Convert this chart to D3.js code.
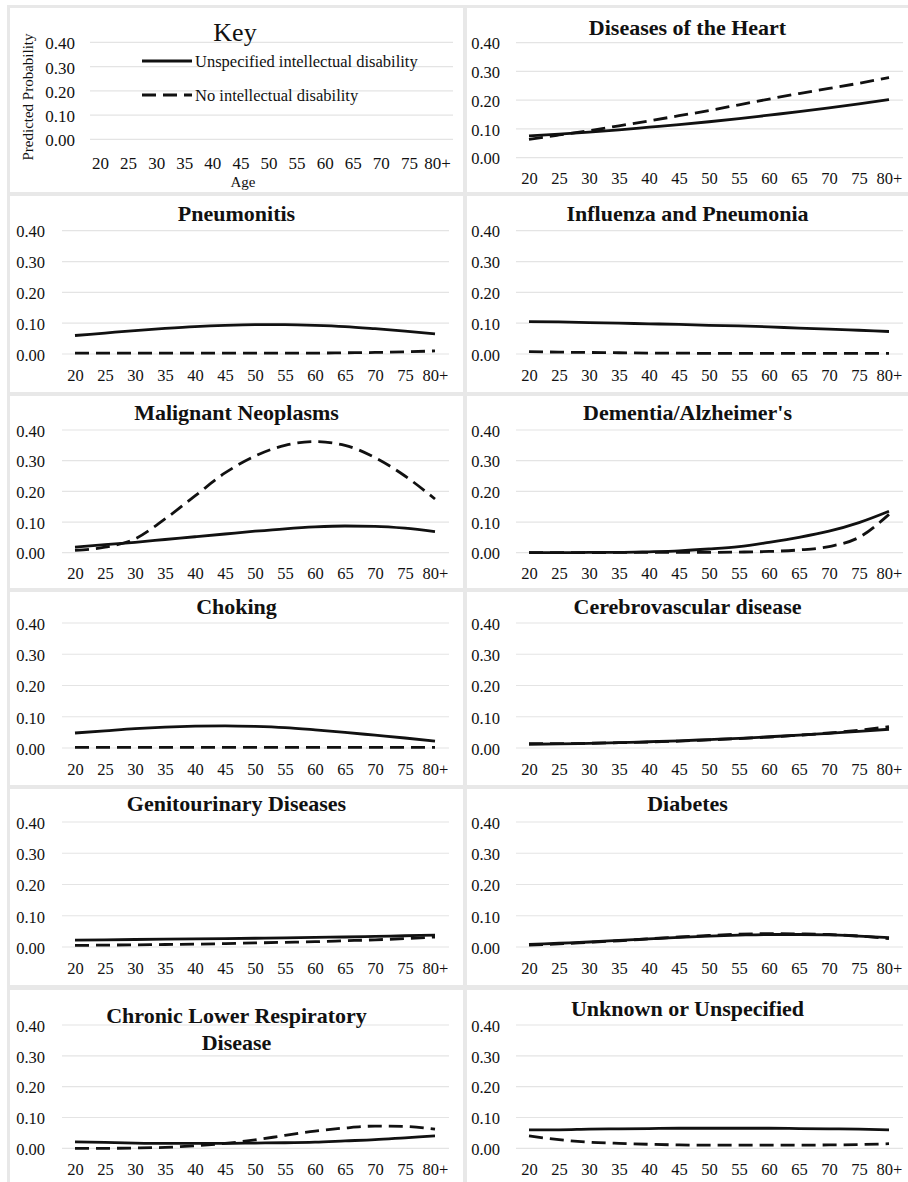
<!DOCTYPE html>
<html>
<head>
<meta charset="utf-8">
<script src="https://cdn.jsdelivr.net/npm/d3@7"></script>
<style>
  html, body { margin: 0; padding: 0; background: #fff; }
  svg { display: block; }
  text { font-family: "Liberation Serif", "Times New Roman", serif; fill: #111; }
</style>
</head>
<body>
<svg id="chart" width="908" height="1182"></svg>
<script>
// Age groups on the x axis and probability ticks on the y axis
const ages = ["20", "25", "30", "35", "40", "45", "50", "55", "60", "65", "70", "75", "80+"];
const probTicks = [0, 0.1, 0.2, 0.3, 0.4];
const probLabels = ["0.00", "0.10", "0.20", "0.30", "0.40"];

// Predicted probability by age: unspecified intellectual disability (ID) vs none (noID)
const heartID       = [0.076, 0.082, 0.089, 0.097, 0.106, 0.115, 0.125, 0.136, 0.148, 0.160, 0.173, 0.187, 0.202];
const heartNoID     = [0.064, 0.079, 0.094, 0.111, 0.128, 0.146, 0.164, 0.184, 0.204, 0.223, 0.241, 0.259, 0.279];
const pneumonitisID   = [0.060, 0.068, 0.076, 0.083, 0.089, 0.093, 0.095, 0.095, 0.093, 0.089, 0.082, 0.074, 0.065];
const pneumonitisNoID = [0.003, 0.003, 0.003, 0.003, 0.003, 0.003, 0.003, 0.003, 0.003, 0.004, 0.005, 0.007, 0.010];
const influenzaID   = [0.105, 0.104, 0.102, 0.100, 0.098, 0.096, 0.093, 0.091, 0.088, 0.084, 0.081, 0.077, 0.073];
const influenzaNoID = [0.008, 0.006, 0.005, 0.004, 0.003, 0.003, 0.002, 0.002, 0.002, 0.002, 0.002, 0.002, 0.002];
const neoplasmID    = [0.018, 0.026, 0.034, 0.043, 0.052, 0.061, 0.070, 0.078, 0.084, 0.087, 0.086, 0.080, 0.069];
const neoplasmNoID  = [0.008, 0.018, 0.045, 0.110, 0.185, 0.260, 0.315, 0.350, 0.362, 0.350, 0.310, 0.250, 0.175];
const dementiaID    = [0.000, 0.000, 0.001, 0.001, 0.003, 0.006, 0.012, 0.020, 0.034, 0.050, 0.070, 0.098, 0.135];
const dementiaNoID  = [0.000, 0.000, 0.000, 0.001, 0.001, 0.001, 0.001, 0.002, 0.004, 0.009, 0.020, 0.050, 0.125];
const chokingID     = [0.048, 0.055, 0.062, 0.067, 0.070, 0.071, 0.069, 0.065, 0.058, 0.050, 0.041, 0.032, 0.022];
const chokingNoID   = [0.002, 0.002, 0.002, 0.002, 0.002, 0.002, 0.002, 0.002, 0.002, 0.002, 0.002, 0.002, 0.002];
const cerebroID     = [0.012, 0.013, 0.015, 0.017, 0.020, 0.023, 0.027, 0.031, 0.036, 0.041, 0.047, 0.053, 0.060];
const cerebroNoID   = [0.014, 0.014, 0.015, 0.017, 0.019, 0.022, 0.026, 0.030, 0.035, 0.041, 0.048, 0.057, 0.068];
const genitoID      = [0.022, 0.023, 0.024, 0.025, 0.026, 0.027, 0.028, 0.029, 0.031, 0.032, 0.034, 0.036, 0.038];
const genitoNoID    = [0.005, 0.006, 0.007, 0.008, 0.009, 0.011, 0.013, 0.015, 0.017, 0.020, 0.023, 0.027, 0.032];
const diabetesID    = [0.008, 0.012, 0.016, 0.021, 0.026, 0.031, 0.035, 0.038, 0.040, 0.040, 0.039, 0.035, 0.030];
const diabetesNoID  = [0.006, 0.010, 0.015, 0.020, 0.026, 0.032, 0.037, 0.041, 0.043, 0.042, 0.040, 0.035, 0.027];
const respID        = [0.021, 0.019, 0.017, 0.016, 0.016, 0.016, 0.017, 0.018, 0.020, 0.024, 0.028, 0.034, 0.040];
const respNoID      = [0.000, 0.000, 0.001, 0.003, 0.008, 0.016, 0.027, 0.042, 0.056, 0.066, 0.072, 0.071, 0.062];
const unknownID     = [0.060, 0.060, 0.062, 0.063, 0.064, 0.065, 0.065, 0.065, 0.065, 0.064, 0.063, 0.062, 0.060];
const unknownNoID   = [0.040, 0.028, 0.020, 0.016, 0.013, 0.011, 0.010, 0.010, 0.010, 0.010, 0.011, 0.012, 0.015];

const legendLabels = ["Unspecified intellectual disability", "No intellectual disability"];

// Cause-of-death panels, in reading order (row, column); the key occupies row 0, column 0
const panels = [
  { row: 0, col: 1, title: ["Diseases of the Heart"], id: heartID, noId: heartNoID },
  { row: 1, col: 0, title: ["Pneumonitis"], id: pneumonitisID, noId: pneumonitisNoID },
  { row: 1, col: 1, title: ["Influenza and Pneumonia"], id: influenzaID, noId: influenzaNoID },
  { row: 2, col: 0, title: ["Malignant Neoplasms"], id: neoplasmID, noId: neoplasmNoID },
  { row: 2, col: 1, title: ["Dementia/Alzheimer's"], id: dementiaID, noId: dementiaNoID },
  { row: 3, col: 0, title: ["Choking"], id: chokingID, noId: chokingNoID },
  { row: 3, col: 1, title: ["Cerebrovascular disease"], id: cerebroID, noId: cerebroNoID },
  { row: 4, col: 0, title: ["Genitourinary Diseases"], id: genitoID, noId: genitoNoID },
  { row: 4, col: 1, title: ["Diabetes"], id: diabetesID, noId: diabetesNoID },
  { row: 5, col: 0, title: ["Chronic Lower Respiratory", "Disease"], id: respID, noId: respNoID },
  { row: 5, col: 1, title: ["Unknown or Unspecified"], id: unknownID, noId: unknownNoID }
];

// Grid geometry
const rowBox = [[8, 192], [196, 392], [396, 588], [592, 785], [789, 985], [990, 1182]];
const rowY = [ // pixel y of 0.40 and 0.00 gridlines
  [42.7, 157.7], [230.7, 354], [430, 552.7], [623, 748], [822, 947], [1025, 1148.3]
];
const rowTitleY = [27, 213, 412, 606, 803, 1008];
const colBox = [[10, 463], [467, 908]];
const colPlot = [[60, 450], [514, 904]];   // x band range
const colLabelX = [45, 500];               // right edge of y tick labels

const svg = d3.select("#chart");

// Light gray frame with white panels
svg.append("rect").attr("x", 7).attr("y", 5).attr("width", 901).attr("height", 1177).attr("fill", "#e8e8e8");
for (let r = 0; r < rowBox.length; r++) {
  for (let c = 0; c < colBox.length; c++) {
    svg.append("rect")
      .attr("x", colBox[c][0]).attr("y", rowBox[r][0])
      .attr("width", colBox[c][1] - colBox[c][0]).attr("height", rowBox[r][1] - rowBox[r][0])
      .attr("fill", "#fff");
  }
}

const lineStyles = {
  id: { width: 2.8, dash: null },
  noId: { width: 2.8, dash: "14,7" }
};

function drawAxes(g, x, y, gridX0, gridX1, labelRight, labelSize, xLabelY) {
  // horizontal gridlines
  g.append("g").selectAll("line").data(probTicks).join("line")
    .attr("x1", gridX0).attr("x2", gridX1)
    .attr("y1", d => y(d)).attr("y2", d => y(d))
    .attr("stroke", "#e4e4e4").attr("stroke-width", 1.2);

  // y axis labels
  const yAxis = d3.axisLeft(y).tickValues(probTicks)
    .tickFormat((d, i) => probLabels[i]).tickSize(0).tickPadding(0);
  const ya = g.append("g").attr("transform", `translate(${labelRight},0)`).call(yAxis);
  ya.attr("font-family", null);
  ya.select(".domain").remove();
  ya.selectAll("text").attr("font-size", labelSize).attr("dy", "0.38em")
    .style("font-family", "'Liberation Serif', 'Times New Roman', serif").attr("fill", "#222");

  // x axis labels
  const xAxis = d3.axisBottom(x).tickSize(0).tickPadding(0);
  const xa = g.append("g").attr("transform", `translate(0,${xLabelY})`).call(xAxis);
  xa.attr("font-family", null);
  xa.select(".domain").remove();
  xa.selectAll("text").attr("font-size", labelSize).attr("dy", "0.35em")
    .style("font-family", "'Liberation Serif', 'Times New Roman', serif").attr("fill", "#222");
}

// ---- Data panels ----
panels.forEach(p => {
  const [y40, y00] = rowY[p.row];
  const [bx0, bx1] = colBox[p.col];
  const x = d3.scalePoint().domain(ages).range(colPlot[p.col]).padding(0.5);
  const y = d3.scaleLinear().domain([0, 0.4]).range([y00, y40]);
  const g = svg.append("g");

  drawAxes(g, x, y, colPlot[p.col][0] + 2, colPlot[p.col][1] - 1, colLabelX[p.col], 16.5, y00 + 21);

  // title
  const cx = (bx0 + bx1) / 2;
  const ty0 = rowTitleY[p.row] + (p.title.length > 1 ? 7 : 0);
  p.title.forEach((t, i) => {
    g.append("text").attr("x", cx).attr("y", ty0 + i * 27).attr("dy", "0.35em")
      .attr("text-anchor", "middle").attr("font-size", 22).attr("font-weight", "bold")
      .text(t);
  });

  const line = d3.line().x((d, i) => x(ages[i])).y(d => y(d)).curve(d3.curveMonotoneX);
  [["noId", p.noId], ["id", p.id]].forEach(([k, vals]) => {
    g.append("path").datum(vals)
      .attr("d", line).attr("fill", "none").attr("stroke", "#111")
      .attr("stroke-width", lineStyles[k].width)
      .attr("stroke-dasharray", lineStyles[k].dash)
      .attr("stroke-linecap", "butt");
  });
});

// ---- Key panel ----
(function drawKey() {
  const x = d3.scalePoint().domain(ages).range([86, 451]).padding(0.5);
  const y = d3.scaleLinear().domain([0, 0.4]).range([139.3, 42.3]);
  const g = svg.append("g");
  drawAxes(g, x, y, 90, 453, 75, 17, 163);

  g.append("text").attr("x", 235).attr("y", 32).attr("dy", "0.35em").attr("text-anchor", "middle")
    .attr("font-size", 26).text("Key");

  g.append("text").attr("transform", "translate(33,97) rotate(-90)")
    .attr("text-anchor", "middle").attr("font-size", 15).text("Predicted Probability");
  g.append("text").attr("x", 243).attr("y", 182).attr("dy", "0.35em").attr("text-anchor", "middle")
    .attr("font-size", 15).text("Age");

  const legend = [
    { label: legendLabels[0], style: lineStyles.id, y: 61 },
    { label: legendLabels[1], style: lineStyles.noId, y: 95 }
  ];
  legend.forEach(l => {
    g.append("line").attr("x1", 142).attr("x2", 192).attr("y1", l.y).attr("y2", l.y)
      .attr("stroke", "#111").attr("stroke-width", l.style.width)
      .attr("stroke-dasharray", l.style.dash);
    g.append("text").attr("x", 195).attr("y", l.y).attr("dy", "0.35em")
      .attr("font-size", 16.5).text(l.label);
  });
})();
</script>
</body>
</html>
